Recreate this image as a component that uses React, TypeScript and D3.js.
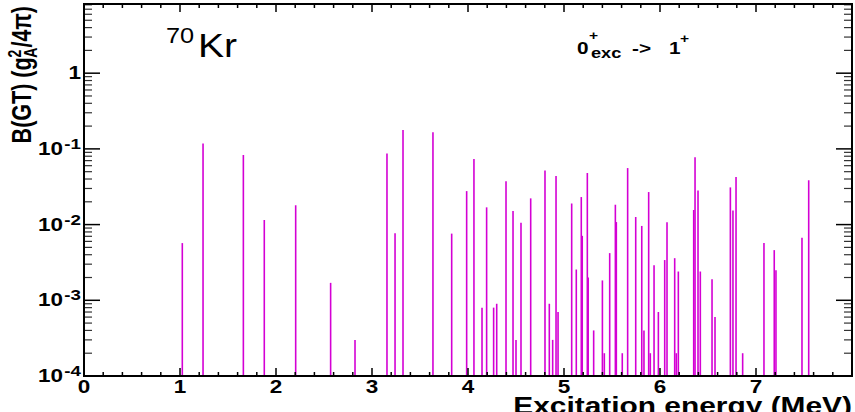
import * as d3 from "d3";
import type { ReactNode } from "react";

// excitation energies (MeV) and B(GT) strengths
const energies = [
  1.024, 1.24, 1.66, 1.878, 2.205, 2.569, 2.823, 3.156, 3.24, 3.323, 3.635,
  3.83, 3.986, 4.062, 4.146, 4.194, 4.267, 4.299, 4.396, 4.469, 4.5, 4.552,
  4.653, 4.802, 4.847, 4.882, 4.917, 4.938, 5.08, 5.128, 5.18, 5.19, 5.243,
  5.252, 5.309, 5.4, 5.42, 5.476, 5.535, 5.545, 5.607, 5.663, 5.747, 5.81,
  5.833, 5.882, 5.899, 5.938, 5.983, 6.049, 6.073, 6.153, 6.17, 6.191, 6.351,
  6.365, 6.396, 6.42, 6.542, 6.573, 6.733, 6.76, 6.792, 6.861, 7.083, 7.19,
  7.208, 7.479, 7.549,
];
const strengths = [
  0.0057, 0.118, 0.083, 0.0115, 0.018, 0.0017, 0.0003, 0.087, 0.0077, 0.178,
  0.166, 0.0076, 0.0277, 0.0735, 0.0008, 0.0169, 0.0008, 0.0009, 0.0373,
  0.0151, 0.0003, 0.0106, 0.0222, 0.052, 0.0009, 0.0003, 0.044, 0.0007, 0.019,
  0.00255, 0.0231, 0.0071, 0.048, 0.002, 0.0004, 0.00183, 0.0002, 0.0042,
  0.0183, 0.0108, 0.0002, 0.0558, 0.0126, 0.0096, 0.0004, 0.0269, 0.0002,
  0.0029, 0.0007, 0.0034, 0.0107, 0.0036, 0.0002, 0.0024, 0.0156, 0.0775,
  0.0283, 0.0024, 0.0019, 0.0006, 0.031, 0.0154, 0.0425, 0.0002, 0.0057,
  0.0046, 0.0025, 0.0067, 0.0385,
];

const xTickLabels = ["0", "1", "2", "3", "4", "5", "6", "7"];
const yTickValues = [1e-4, 1e-3, 1e-2, 1e-1, 1];
const yTickExponents = ["-4", "-3", "-2", "-1", ""];

const width = 855;
const height = 412;
const left = 84;
const right = 852;
const top = 4;
const bottom = 376;
const font = "'Liberation Sans', Arial, Helvetica, sans-serif";
// the original canvas stretches its text a little sideways
const stretch = 1.25;

function SText(props: {
  x: number;
  y: number;
  size: number;
  bold?: boolean;
  anchor?: string;
  sx?: number;
  children: ReactNode;
}) {
  const { x, y, size, bold, anchor, sx = stretch, children } = props;
  return (
    <text
      transform={`translate(${x},${y}) scale(${sx},1)`}
      fontSize={size}
      fontWeight={bold ? "bold" : "normal"}
      textAnchor={anchor || "start"}
      fill="#000"
    >
      {children}
    </text>
  );
}

export default function App() {
  const x = d3.scaleLinear().domain([0, 8]).range([left, right]);
  const y = d3.scaleLog().domain([1e-4, 8.2]).range([bottom, top]);

  const xMinor = d3.range(0, 41).map((i) => i * 0.2);
  const yMinor: number[] = [];
  for (let e = -4; e <= 0; e++) {
    for (let k = 2; k <= 9; k++) {
      const v = k * Math.pow(10, e);
      if (v <= 8.2) yMinor.push(v);
    }
  }

  return (
    <svg
      width={width}
      height={height}
      style={{ position: "absolute", left: 0, top: 0, background: "#fff" }}
      fontFamily={font}
    >
      {/* spectrum lines */}
      {energies.map((e, i) => (
        <line
          key={i}
          x1={x(e)}
          x2={x(e)}
          y1={bottom}
          y2={y(strengths[i])}
          stroke="#d400d4"
          strokeWidth={1.6}
        />
      ))}

      {/* x ticks bottom and top */}
      {xMinor.map((t, i) => {
        const major = i % 5 === 0;
        const len = major ? 8 : 4;
        return (
          <g key={`xt${i}`} stroke="#000" strokeWidth={1.5}>
            <line x1={x(t)} x2={x(t)} y1={bottom} y2={bottom - len} />
            <line x1={x(t)} x2={x(t)} y1={top} y2={top + len} />
          </g>
        );
      })}

      {/* y ticks left and right */}
      {yTickValues.map((v) => (
        <g key={`ym${v}`} stroke="#000" strokeWidth={1.5}>
          <line x1={left} x2={left + 16} y1={y(v)} y2={y(v)} />
          <line x1={right} x2={right - 16} y1={y(v)} y2={y(v)} />
        </g>
      ))}
      {yMinor.map((v) => (
        <g key={`yn${v}`} stroke="#333" strokeWidth={1.2}>
          <line x1={left} x2={left + 8} y1={y(v)} y2={y(v)} />
          <line x1={right} x2={right - 8} y1={y(v)} y2={y(v)} />
        </g>
      ))}

      {/* frame */}
      <rect
        x={left}
        y={top}
        width={right - left}
        height={bottom - top}
        fill="none"
        stroke="#000"
        strokeWidth={2}
      />

      {/* x tick labels */}
      {xTickLabels.map((l, i) => (
        <SText key={`xl${l}`} x={x(i)} y={393} size={18} bold anchor="middle">
          {l}
        </SText>
      ))}

      {/* y tick labels */}
      {yTickValues.map((v, i) => (
        <SText key={`yl${v}`} x={81} y={y(v) + 6} size={18} bold anchor="end">
          {yTickExponents[i] === "" ? (
            "1"
          ) : (
            <>
              10
              <tspan dx={1} dy={-6} fontSize={15}>
                {yTickExponents[i]}
              </tspan>
            </>
          )}
        </SText>
      ))}

      {/* axis titles */}
      <SText x={852} y={414} size={23} bold anchor="end" sx={1.3}>
        Excitation energy (MeV)
      </SText>
      <text
        transform={`translate(31,6) scale(${stretch},1) rotate(-90)`}
        textAnchor="end"
        fontSize={21.5}
        fontWeight="bold"
        fill="#000"
      >
        B(GT) (g
        <tspan dy={-8} fontSize={14}>
          2
        </tspan>
        <tspan dx={-8} dy={13} fontSize={14}>
          A
        </tspan>
        <tspan dy={-5}>/4π)</tspan>
      </text>

      {/* annotations */}
      <SText x={166} y={43} size={22} sx={1.15}>
        70
      </SText>
      <SText x={198} y={57} size={34} sx={1.15}>
        Kr
      </SText>

      <SText x={577} y={54} size={16} bold sx={1.3}>
        0
      </SText>
      <SText x={589} y={40} size={12} bold sx={1.3}>
        +
      </SText>
      <SText x={591} y={58} size={14} bold sx={1.3}>
        exc
      </SText>
      <SText x={632} y={54} size={16} bold sx={1.3}>
        {"->"}
      </SText>
      <SText x={669} y={54} size={16} bold sx={1.3}>
        1
      </SText>
      <SText x={680} y={43} size={12} bold sx={1.3}>
        +
      </SText>
    </svg>
  );
}
